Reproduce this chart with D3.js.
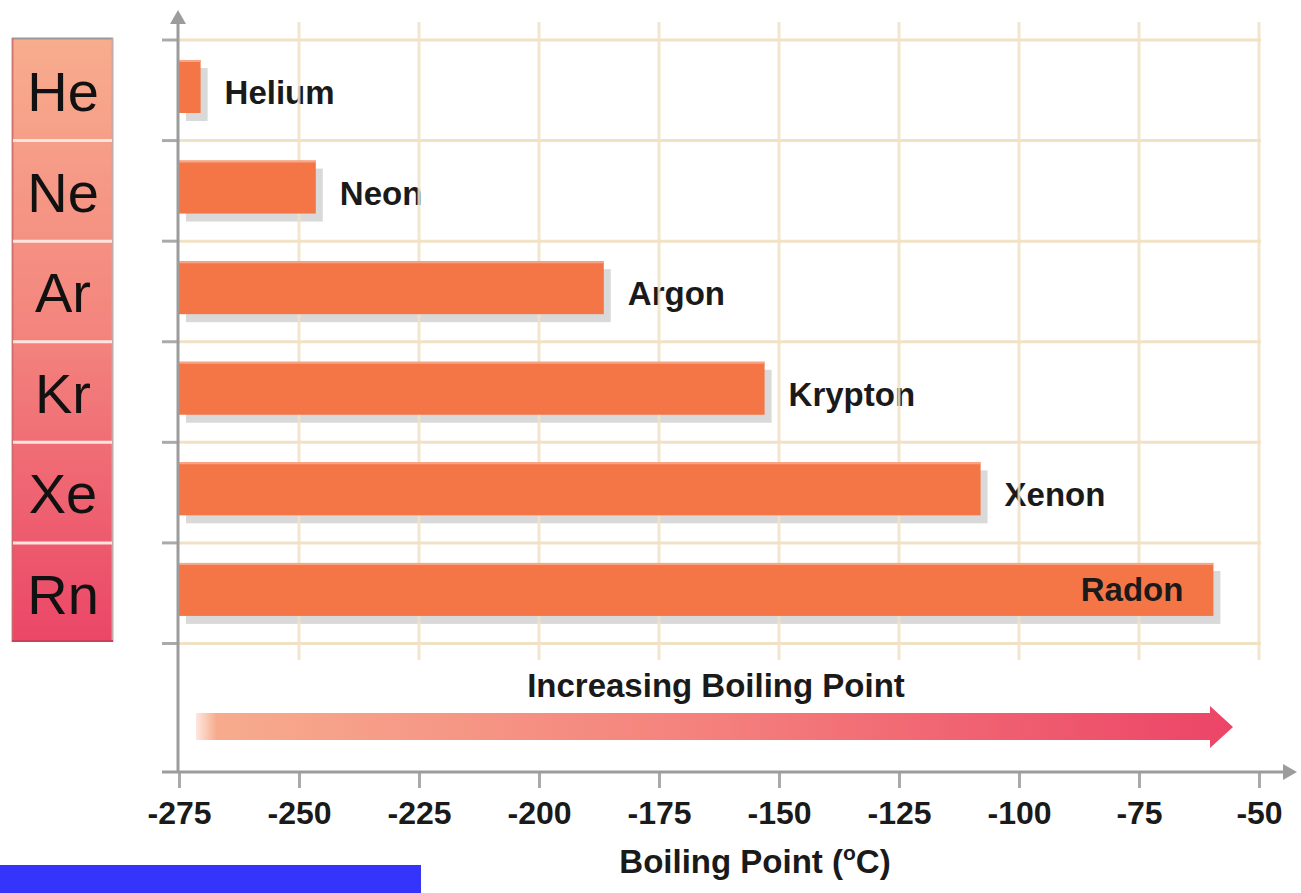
<!DOCTYPE html>
<html>
<head>
<meta charset="utf-8">
<script src="https://cdn.jsdelivr.net/npm/d3@7"></script>
<style>
  html, body { margin: 0; padding: 0; background: #fff; }
  svg { display: block; }
  text { font-family: "Liberation Sans", Arial, sans-serif; }
</style>
</head>
<body>
<svg id="chart" width="1301" height="893"></svg>
<script>
// Noble gases and their boiling points (°C)
const symbols = ["He", "Ne", "Ar", "Kr", "Xe", "Rn"];
const names = ["Helium", "Neon", "Argon", "Krypton", "Xenon", "Radon"];
const boilingPoints = [-270.5, -246.5, -186.5, -153, -108, -59.5];
const tickValues = [-275, -250, -225, -200, -175, -150, -125, -100, -75, -50];
const tickLabels = ["-275", "-250", "-225", "-200", "-175", "-150", "-125", "-100", "-75", "-50"];
const axisTitle = "Boiling Point (";
const arrowCaption = "Increasing Boiling Point";

const rows = symbols.map((s, i) => ({ symbol: s, name: names[i], value: boilingPoints[i] }));

const svg = d3.select("#chart");
const defs = svg.append("defs");

const x = d3.scaleLinear().domain([-275, -50]).range([179, 1259]);
const y = d3.scaleBand().domain(symbols).range([40, 643.5]).padding(0);
const band = y.bandwidth();
const boundaries = d3.range(symbols.length + 1).map(i => 40 + i * band);

const axisColor = "#9c9c9c";
const gridColor = "#f1e2c6";
const barColor = "#f47647";

// ---- element column on the left ----
const colGrad = defs.append("linearGradient")
  .attr("id", "colGrad").attr("x1", 0).attr("y1", 0).attr("x2", 0).attr("y2", 1);
colGrad.append("stop").attr("offset", "0%").attr("stop-color", "#f8ad8e");
colGrad.append("stop").attr("offset", "50%").attr("stop-color", "#f3837d");
colGrad.append("stop").attr("offset", "100%").attr("stop-color", "#eb4667");

const col = svg.append("g");
col.append("rect")
  .attr("x", 12).attr("y", 38).attr("width", 101).attr("height", 604)
  .attr("fill", "url(#colGrad)");
col.append("line").attr("x1", 12).attr("x2", 113).attr("y1", 38.5).attr("y2", 38.5)
  .attr("stroke", "#999").attr("stroke-width", 2);
col.append("line").attr("x1", 12.5).attr("x2", 12.5).attr("y1", 38).attr("y2", 642)
  .attr("stroke", "#c86a6a").attr("stroke-width", 2).attr("opacity", 0.8);
col.append("line").attr("x1", 112.5).attr("x2", 112.5).attr("y1", 38).attr("y2", 642)
  .attr("stroke", "#c4a8a8").attr("stroke-width", 2);
col.append("line").attr("x1", 12).attr("x2", 113).attr("y1", 641).attr("y2", 641)
  .attr("stroke", "#c8405a").attr("stroke-width", 2);
col.selectAll("line.sep")
  .data(boundaries.slice(1, -1))
  .join("line")
  .attr("class", "sep")
  .attr("x1", 13).attr("x2", 112)
  .attr("y1", d => d).attr("y2", d => d)
  .attr("stroke", "#fde4dc").attr("stroke-width", 3);
col.selectAll("text.sym")
  .data(rows)
  .join("text")
  .attr("class", "sym")
  .attr("x", 63)
  .attr("y", d => y(d.symbol) + 71)
  .attr("text-anchor", "middle")
  .attr("font-size", 56)
  .attr("fill", "#111")
  .text(d => d.symbol);

// ---- bar shadows ----
svg.append("g").selectAll("rect")
  .data(rows)
  .join("rect")
  .attr("x", x(-275) + 7)
  .attr("y", d => y(d.symbol) + 28)
  .attr("width", d => x(d.value) - x(-275))
  .attr("height", 53)
  .attr("fill", "#000").attr("opacity", 0.15);

// ---- labels to the right of the bars ----
const outside = rows.filter(d => d.name !== "Radon");
svg.append("g").selectAll("text")
  .data(outside)
  .join("text")
  .attr("x", d => x(d.value) + 24)
  .attr("y", d => y(d.symbol) + 64)
  .attr("font-size", 33).attr("font-weight", "bold")
  .attr("fill", "#1a1a1a")
  .text(d => d.name);

// ---- grid ----
const grid = svg.append("g").attr("stroke", gridColor).attr("stroke-width", 3);
grid.selectAll("line.h")
  .data(boundaries)
  .join("line").attr("class", "h")
  .attr("x1", x(-275)).attr("x2", x(-50) + 2)
  .attr("y1", d => d).attr("y2", d => d);
grid.selectAll("line.v")
  .data(tickValues.slice(1))
  .join("line").attr("class", "v")
  .attr("x1", d => x(d)).attr("x2", d => x(d))
  .attr("y1", 22).attr("y2", 660)
  .attr("opacity", 0.85);

// ---- bars ----
const bars = svg.append("g");
bars.selectAll("rect.bar")
  .data(rows)
  .join("rect").attr("class", "bar")
  .attr("x", x(-275))
  .attr("y", d => y(d.symbol) + 20)
  .attr("width", d => x(d.value) - x(-275))
  .attr("height", 53)
  .attr("fill", barColor);
bars.selectAll("line.hi")
  .data(rows)
  .join("line").attr("class", "hi")
  .attr("x1", x(-275)).attr("x2", d => x(d.value))
  .attr("y1", d => y(d.symbol) + 21).attr("y2", d => y(d.symbol) + 21)
  .attr("stroke", "#f8a585").attr("stroke-width", 2);

// label inside the longest bar
const inside = rows.filter(d => d.name === "Radon");
svg.append("g").selectAll("text")
  .data(inside)
  .join("text")
  .attr("x", d => x(d.value) - 30)
  .attr("y", d => y(d.symbol) + 58)
  .attr("text-anchor", "end")
  .attr("font-size", 33).attr("font-weight", "bold")
  .attr("fill", "#1a1a1a")
  .text(d => d.name);

// ---- left ticks at band boundaries ----
svg.append("g").selectAll("line")
  .data(boundaries)
  .join("line")
  .attr("x1", 162).attr("x2", 178)
  .attr("y1", d => d).attr("y2", d => d)
  .attr("stroke", "#aaa").attr("stroke-width", 3);

// ---- x axis ----
const xAxis = d3.axisBottom(x).tickValues(tickValues).tickSize(16).tickPadding(0)
  .tickFormat((d, i) => tickLabels[i]);
const gx = svg.append("g").attr("transform", "translate(0,772)").call(xAxis);
gx.select(".domain").remove();
gx.selectAll(".tick line").attr("stroke", "#aaa").attr("stroke-width", 3);
gx.selectAll(".tick text")
  .attr("y", 52).attr("dy", null)
  .attr("font-size", 32).attr("font-weight", "bold")
  .attr("font-family", "'Liberation Sans', Arial, sans-serif")
  .attr("fill", "#1a1a1a");

// axis lines with arrowheads
svg.append("line").attr("x1", 162).attr("x2", 1286).attr("y1", 772).attr("y2", 772)
  .attr("stroke", axisColor).attr("stroke-width", 3);
svg.append("path").attr("d", "M1283,764 L1297,772 L1283,780 Z").attr("fill", axisColor);
svg.append("line").attr("x1", 178).attr("x2", 178).attr("y1", 20).attr("y2", 773)
  .attr("stroke", axisColor).attr("stroke-width", 3);
svg.append("path").attr("d", "M170,24 L178,10 L186,24 Z").attr("fill", axisColor);

// axis title with superscript degree mark
const title = svg.append("text")
  .attr("x", 755).attr("y", 873)
  .attr("text-anchor", "middle")
  .attr("font-size", 33).attr("font-weight", "bold")
  .attr("fill", "#1a1a1a");
title.append("tspan").text(axisTitle);
title.append("tspan").attr("font-size", 21).attr("dy", -13).text("o");
title.append("tspan").attr("dy", 13).text("C)");

// ---- increasing boiling point arrow ----
const arrGrad = defs.append("linearGradient")
  .attr("id", "arrGrad").attr("gradientUnits", "userSpaceOnUse")
  .attr("x1", 196).attr("x2", 1233).attr("y1", 0).attr("y2", 0);
arrGrad.append("stop").attr("offset", "0%").attr("stop-color", "#fde8df");
arrGrad.append("stop").attr("offset", "2%").attr("stop-color", "#f7ab8d");
arrGrad.append("stop").attr("offset", "50%").attr("stop-color", "#f4807c");
arrGrad.append("stop").attr("offset", "100%").attr("stop-color", "#ec4467");

svg.append("path")
  .attr("d", "M196,713 L1210,713 L1210,706 L1233,727 L1210,748 L1210,740 L196,740 Z")
  .attr("fill", "url(#arrGrad)");

svg.append("text")
  .attr("x", 716).attr("y", 697)
  .attr("text-anchor", "middle")
  .attr("font-size", 33).attr("font-weight", "bold")
  .attr("fill", "#1a1a1a")
  .text(arrowCaption);

// ---- blue strip at the bottom left ----
svg.append("rect").attr("x", 0).attr("y", 865).attr("width", 421).attr("height", 28)
  .attr("fill", "#3434fa");
</script>
</body>
</html>
